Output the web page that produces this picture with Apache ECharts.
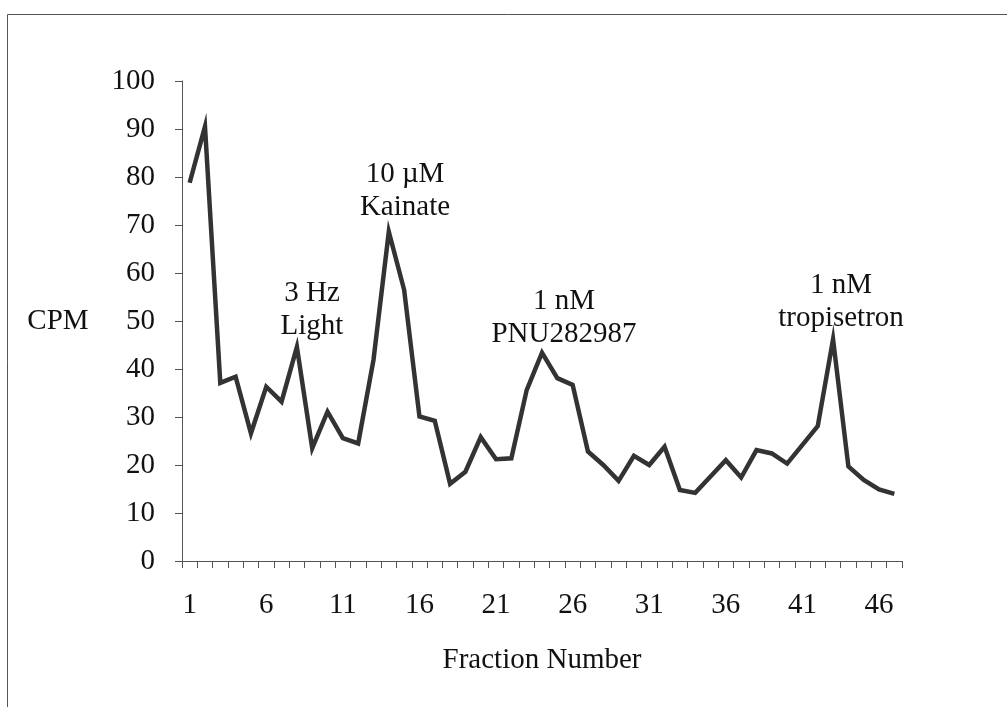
<!DOCTYPE html>
<html>
<head>
<meta charset="utf-8">
<script src="https://cdn.jsdelivr.net/npm/echarts@6/dist/echarts.min.js"></script>
<style>
html,body{margin:0;padding:0;background:#fff;}
#chart{width:1007px;height:707px;}
</style>
</head>
<body>
<div id="chart"></div>
<script>
var fractions = [];
for (var i = 1; i <= 47; i++) fractions.push(String(i));
var cpm = [78.8, 90.5, 37.1, 38.4, 26.6, 36.3, 33.2, 44.6, 23.5, 31.1,
           25.6, 24.5, 41.9, 68.6, 56.5, 30.1, 29.2, 16.1, 18.6, 25.8,
           21.2, 21.4, 35.6, 43.4, 38.1, 36.7, 22.8, 20.0, 16.7, 21.9,
           20.0, 23.8, 14.8, 14.2, 17.6, 21.0, 17.4, 23.1, 22.4, 20.3,
           24.2, 28.1, 46.2, 19.7, 16.9, 14.9, 14.0];
var yTicks = [0, 10, 20, 30, 40, 50, 60, 70, 80, 90, 100];
var annotations = ['3 Hz\nLight', '10 \u00b5M\nKainate', '1 nM\nPNU282987', '1 nM\ntropisetron'];
var xAxisTitle = 'Fraction Number';
var yAxisTitle = 'CPM';

var FONT = "'Liberation Serif','Times New Roman',serif";
var annPos = [[312, 310], [405, 191], [564, 318], [841, 302]];

var chart = echarts.init(document.getElementById('chart'), null, {renderer: 'canvas'});
var graphics = [{
  type: 'rect', shape: {x: 7.5, y: 14.5, width: 1200, height: 900},
  style: {fill: 'none', stroke: '#555', lineWidth: 1}, silent: true
}];
annotations.forEach(function (t, k) {
  graphics.push({
    type: 'text', x: annPos[k][0], y: annPos[k][1],
    style: {text: t, fontFamily: FONT, fontSize: 29, lineHeight: 33,
            fill: '#111', align: 'center', verticalAlign: 'middle'}
  });
});

chart.setOption({
  animation: false,
  backgroundColor: '#fff',
  grid: {left: 182, top: 81, right: 105, bottom: 146, containLabel: false},
  xAxis: {
    type: 'category', data: fractions, boundaryGap: true,
    name: xAxisTitle, nameLocation: 'middle', nameGap: 85,
    nameTextStyle: {fontFamily: FONT, fontSize: 29, color: '#111'},
    axisLine: {lineStyle: {color: '#555', width: 1}},
    axisTick: {show: true, interval: 0, length: 7, lineStyle: {color: '#555'}},
    axisLabel: {interval: 4, margin: 30, fontFamily: FONT, fontSize: 29, color: '#111'},
    splitLine: {show: false}
  },
  yAxis: {
    type: 'value', min: yTicks[0], max: yTicks[yTicks.length - 1], interval: 10,
    name: yAxisTitle, nameLocation: 'middle', nameRotate: 0, nameGap: 124,
    nameTextStyle: {fontFamily: FONT, fontSize: 29, color: '#111', align: 'center', verticalAlign: 'middle'},
    axisLine: {show: true, lineStyle: {color: '#555', width: 1}},
    axisTick: {show: true, length: 7, lineStyle: {color: '#555'}},
    axisLabel: {margin: 27, fontFamily: FONT, fontSize: 29, color: '#111'},
    splitLine: {show: false}
  },
  series: [{
    type: 'line', data: cpm, symbol: 'none',
    lineStyle: {color: '#333', width: 4.5, join: 'miter'}
  }],
  graphic: graphics
});
</script>
</body>
</html>
